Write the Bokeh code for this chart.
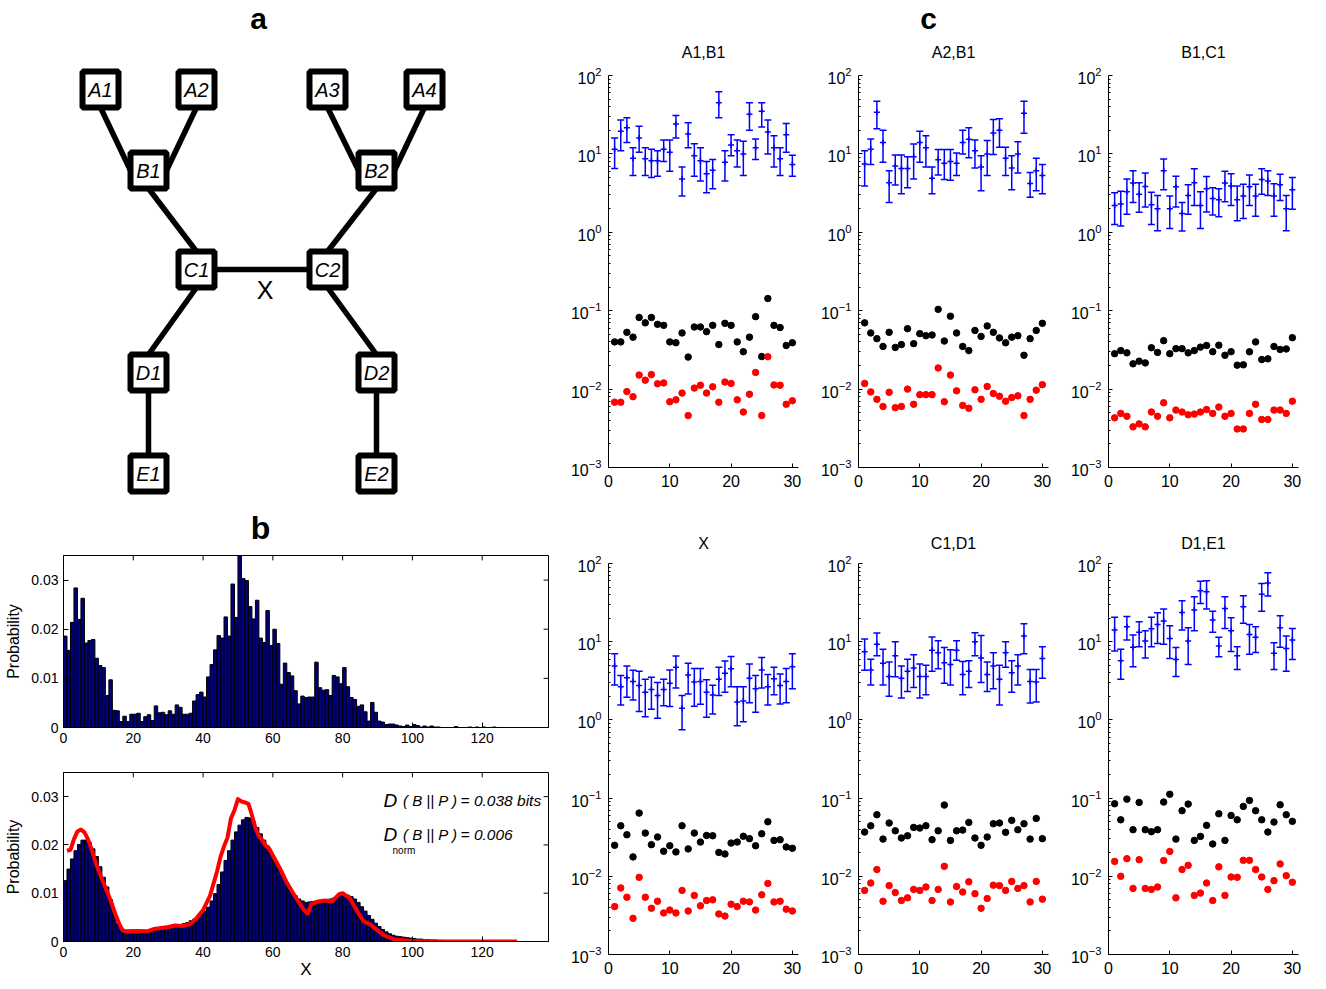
import numpy as np
from bokeh.plotting import figure
from bokeh.layouts import row, column
from bokeh.models import (Range1d, FixedTicker, CustomJSTickFormatter, Whisker, TeeHead,
                          ColumnDataSource)
from bokeh.embed import file_html
from bokeh.resources import INLINE
from bokeh.core.properties import value

FONT = "Liberation Sans"

# ---------------- panel a : network ----------------
node_names = ["A1", "A2", "A3", "A4", "B1", "B2", "C1", "C2", "D1", "D2", "E1", "E2"]
node_x = [100, 196, 327, 424, 148, 376, 196, 327, 148, 376, 148, 376]
node_y = [89, 89, 89, 89, 170, 170, 269, 269, 372, 372, 473, 473]
edges = [("A1", "b", "B1", "l"), ("A2", "b", "B1", "r"), ("B1", "b", "C1", "t"),
         ("A3", "b", "B2", "l"), ("A4", "b", "B2", "r"), ("B2", "b", "C2", "t"),
         ("C1", "r", "C2", "l"), ("C1", "b", "D1", "t"), ("C2", "b", "D2", "t"),
         ("D1", "b", "E1", "t"), ("D2", "b", "E2", "t")]
edge_label = "X"

# ---------------- panel b : histograms ----------------
hist_obs = [0.0186, 0.0157, 0.0214, 0.0284, 0.0220, 0.0263, 0.0172, 0.0177, 0.0179, 0.0141,
            0.0126, 0.0122, 0.0065, 0.0097, 0.0035, 0.0034, 0.0012, 0.0023, 0.0012, 0.0027,
            0.0027, 0.0029, 0.0012, 0.0022, 0.0026, 0.0014, 0.0044, 0.0030, 0.0031, 0.0026,
            0.0034, 0.0027, 0.0046, 0.0041, 0.0027, 0.0027, 0.0029, 0.0054, 0.0067, 0.0072,
            0.0062, 0.0103, 0.0128, 0.0158, 0.0187, 0.0182, 0.0225, 0.0186, 0.0292, 0.0224,
            0.0370, 0.0303, 0.0299, 0.0246, 0.0221, 0.0259, 0.0182, 0.0173, 0.0238, 0.0167,
            0.0200, 0.0171, 0.0088, 0.0131, 0.0112, 0.0105, 0.0075, 0.0048, 0.0064, 0.0061,
            0.0062, 0.0062, 0.0133, 0.0081, 0.0076, 0.0077, 0.0065, 0.0106, 0.0103, 0.0089,
            0.0122, 0.0083, 0.0061, 0.0057, 0.0043, 0.0046, 0.0032, 0.0013, 0.0051, 0.0031,
            0.0013, 0.0011, 0.0006, 0.0007, 0.0007, 0.0005, 0.0003, 0.0002, 0.0005, 0.0002,
            0.0006, 0.0004, 0.0001, 0.0003, 0.0001, 0.0003, 0.0001, 0.0001, 0.0, 0.0,
            0.0, 0.0, 0.0002, 0.0, 0.0, 0.0, 0.0001, 0.0, 0.0001, 0.0,
            0.0001, 0.0, 0.0, 0.0001, 0.0, 0.0, 0.0, 0.0, 0.0, 0.0,
            0.0, 0.0, 0.0, 0.0, 0.0, 0.0, 0.0, 0.0, 0.0]
hist_model = [0.0126, 0.0150, 0.0171, 0.0188, 0.0201, 0.0210, 0.0210, 0.0205, 0.0192, 0.0176,
              0.0155, 0.0133, 0.0113, 0.0087, 0.0058, 0.0037, 0.0024, 0.0018, 0.0016, 0.0016,
              0.0016, 0.0016, 0.0018, 0.0020, 0.0022, 0.0023, 0.0024, 0.0026, 0.0027, 0.0029,
              0.0031, 0.0032, 0.0033, 0.0035, 0.0037, 0.0039, 0.0043, 0.0046, 0.0050, 0.0056,
              0.0063, 0.0071, 0.0084, 0.0099, 0.0118, 0.0144, 0.0168, 0.0188, 0.0210, 0.0227,
              0.0241, 0.0252, 0.0257, 0.0256, 0.0248, 0.0236, 0.0223, 0.0210, 0.0198, 0.0184,
              0.0169, 0.0154, 0.0139, 0.0125, 0.0113, 0.0103, 0.0095, 0.0088, 0.0084, 0.0081,
              0.0082, 0.0083, 0.0084, 0.0085, 0.0086, 0.0087, 0.0088, 0.0090, 0.0093, 0.0096,
              0.0097, 0.0096, 0.0093, 0.0088, 0.0081, 0.0072, 0.0063, 0.0054, 0.0046, 0.0038,
              0.0031, 0.0025, 0.0020, 0.0016, 0.0013, 0.0011, 0.0010, 0.0009, 0.0008, 0.0007,
              0.0006, 0.0005, 0.0005, 0.0004, 0.0004, 0.0003, 0.0003, 0.0002, 0.0002, 0.0002,
              0.0001, 0.0001, 0.0001, 0.0001, 0.0001, 0.0001, 0.0001, 0.0001, 0.0001, 0.0001,
              0.00005, 0.00005, 0.00005, 0.0, 0.0, 0.0, 0.0, 0.0, 0.0, 0.0,
              0.0, 0.0, 0.0, 0.0, 0.0, 0.0, 0.0, 0.0, 0.0]
curve_x = [1, 2, 3, 4, 5, 6, 7, 8, 9, 10, 11, 12, 13, 14, 15, 16, 17, 18, 20, 22, 24, 26, 28, 30,
           32, 34, 36, 38, 40, 42, 44, 45, 46, 47, 48, 49, 50, 51, 52, 53, 54, 55, 56, 57, 58,
           59, 60, 62, 64, 66, 68, 69, 70, 71, 73, 75, 77, 79, 80, 82, 84, 86, 88, 90, 92, 95,
           100, 110, 130]
curve_y = [0.0188, 0.0190, 0.0212, 0.0228, 0.0232, 0.0226, 0.0212, 0.0192, 0.0168, 0.0148,
           0.0130, 0.0112, 0.0094, 0.0075, 0.0054, 0.0036, 0.0023, 0.0021, 0.0022, 0.0022,
           0.0021, 0.0026, 0.0028, 0.0030, 0.0033, 0.0032, 0.0035, 0.0047, 0.0065, 0.0095,
           0.0145, 0.0175, 0.0197, 0.0215, 0.0255, 0.0272, 0.0295, 0.0290, 0.0288, 0.0285,
           0.0262, 0.0235, 0.0218, 0.0210, 0.0198, 0.0192, 0.0178, 0.0152, 0.0122, 0.0098,
           0.0075, 0.0065, 0.0058, 0.0077, 0.0083, 0.0085, 0.0083, 0.0098, 0.0100, 0.0090,
           0.0065, 0.0042, 0.0035, 0.0023, 0.0012, 0.0004, 0.0001, 0.0, 0.0]
hist_xticks = [0, 20, 40, 60, 80, 100, 120]
hist_yticks = [0, 0.01, 0.02, 0.03]
div_text = "= 0.038 bits"
divnorm_text = "= 0.006"

# ---------------- panel c : 6 log plots ----------------
trial = list(range(1, 31))
c_xticks = [0, 10, 20, 30]
c_yticks = [1e-3, 1e-2, 1e-1, 1e0, 1e1, 1e2]

a1b1_mid = [11.5, 19.5, 21.5, 8.8, 16, 8.7, 8.2, 8.2, 11.5, 10.5, 24, 4.8, 18, 9.5, 8.2, 5.6, 6.2, 45, 7.8, 13, 11, 10, 32, 12, 35, 19, 12, 8.7, 17.5, 7.3]
a1b1_hi = [16, 27, 29, 12, 22.5, 12, 11.5, 11, 15, 15, 31, 6.8, 25, 13.5, 12, 8, 8.5, 62, 11, 17.5, 15, 14.5, 45, 15.5, 45, 27, 17, 12, 24.5, 9.6]
a1b1_lo = [6.5, 11, 14, 5.3, 10.5, 5.3, 5, 5.2, 8, 6, 16, 2.9, 12, 5.2, 4.5, 3.2, 3.6, 29, 4.5, 9.5, 6.8, 5.3, 20, 8.5, 22, 10, 6.8, 5.3, 10.5, 5.2]
a1b1_black = [0.040, 0.040, 0.053, 0.046, 0.082, 0.070, 0.082, 0.067, 0.065, 0.040, 0.039, 0.052, 0.0256, 0.062, 0.062, 0.054, 0.065, 0.037, 0.069, 0.065, 0.040, 0.030, 0.046, 0.084, 0.026, 0.143, 0.065, 0.061, 0.036, 0.039]
a1b1_red = [0.0068, 0.0068, 0.0093, 0.0080, 0.0151, 0.0130, 0.0153, 0.0117, 0.0120, 0.0069, 0.0073, 0.0089, 0.0046, 0.0103, 0.0112, 0.0089, 0.0107, 0.0068, 0.0123, 0.0118, 0.0073, 0.0051, 0.0086, 0.0163, 0.0046, 0.0259, 0.0113, 0.0112, 0.0064, 0.0071]

a2b1_mid = [7.45, 11.5, 34, 14, 4.3, 7.0, 6.5, 6.5, 9.2, 14, 12, 4.9, 8.4, 7.6, 8.0, 7.6, 14, 15.4, 11, 6.8, 10, 18.5, 20, 8.8, 6.6, 10, 33, 4.2, 6.1, 5.3]
a2b1_hi = [11, 15.5, 47, 20, 6.1, 9.7, 9.7, 9.2, 13.4, 19.5, 17, 6.8, 11.4, 11.4, 11.4, 10.3, 20, 21.5, 15, 9.5, 14.8, 27.5, 28, 12.2, 9.5, 14.3, 47, 5.8, 8.8, 7.3]
a2b1_lo = [3.9, 7.3, 21, 7.8, 2.4, 4.0, 3.1, 3.7, 4.8, 7.8, 6.8, 3.1, 5.4, 4.7, 4.6, 5.3, 10, 8.9, 6.6, 3.4, 5.3, 9.8, 12.2, 5.3, 3.5, 5.7, 18.4, 2.8, 3.4, 3.1]
a2b1_black = [0.070, 0.052, 0.044, 0.035, 0.053, 0.034, 0.037, 0.059, 0.038, 0.051, 0.048, 0.049, 0.104, 0.041, 0.085, 0.052, 0.035, 0.031, 0.056, 0.047, 0.064, 0.053, 0.045, 0.039, 0.046, 0.048, 0.027, 0.044, 0.056, 0.069]
a2b1_red = [0.0118, 0.0092, 0.0074, 0.0060, 0.0091, 0.0058, 0.0060, 0.0100, 0.0064, 0.0085, 0.0085, 0.0085, 0.0186, 0.0069, 0.0151, 0.0095, 0.0062, 0.0057, 0.0098, 0.0074, 0.0108, 0.0088, 0.0081, 0.0070, 0.0078, 0.0082, 0.0046, 0.0074, 0.0097, 0.0114]

b1c1_mid = [2.2, 2.3, 3.3, 4.25, 3.05, 3.85, 2.25, 2.0, 6.1, 2.0, 3.8, 1.74, 2.95, 4.3, 2.2, 3.6, 2.7, 2.6, 4.25, 3.9, 2.6, 2.9, 3.8, 2.9, 4.7, 4.5, 2.9, 4.05, 2.0, 3.5]
b1c1_hi = [3.2, 3.35, 4.8, 6.1, 4.3, 5.7, 3.25, 2.95, 8.6, 2.9, 5.2, 2.4, 4.05, 6.45, 3.3, 5.15, 3.7, 3.6, 6.0, 5.6, 3.9, 4.1, 5.4, 4.1, 6.45, 6.1, 4.15, 5.5, 2.95, 5.0]
b1c1_lo = [1.26, 1.2, 1.7, 2.4, 1.8, 2.1, 1.26, 1.05, 3.5, 1.12, 2.1, 1.04, 1.7, 2.2, 1.12, 1.82, 1.66, 1.58, 2.45, 2.2, 1.4, 1.5, 2.2, 1.6, 3.05, 2.95, 1.6, 2.55, 1.05, 1.97]
b1c1_black = [0.0283, 0.031, 0.029, 0.021, 0.0227, 0.0216, 0.0337, 0.0294, 0.0415, 0.0283, 0.0328, 0.0328, 0.029, 0.031, 0.0343, 0.036, 0.030, 0.0363, 0.027, 0.030, 0.0202, 0.0204, 0.0299, 0.040, 0.0238, 0.0243, 0.035, 0.032, 0.0325, 0.0453]
b1c1_red = [0.0043, 0.0049, 0.0045, 0.0033, 0.0036, 0.0033, 0.0051, 0.0045, 0.0067, 0.0043, 0.0054, 0.0051, 0.0047, 0.0048, 0.0051, 0.0055, 0.0049, 0.0059, 0.0045, 0.0049, 0.0031, 0.0031, 0.0049, 0.0064, 0.0041, 0.0041, 0.0054, 0.0054, 0.0049, 0.0070]

x_mid = [4.9, 2.66, 3.47, 3.1, 2.75, 2.25, 2.45, 2.05, 2.45, 2.95, 4.7, 1.41, 3.75, 3.05, 3.1, 2.25, 2.08, 3.3, 3.95, 4.5, 1.7, 1.75, 3.4, 2.5, 4.35, 2.66, 3.35, 2.75, 3.1, 4.8]
x_hi = [7.0, 3.7, 4.9, 4.3, 4.2, 3.3, 3.5, 3.0, 3.3, 4.35, 6.55, 2.05, 5.3, 4.55, 4.55, 3.25, 2.77, 4.7, 5.65, 6.45, 2.66, 2.66, 5.2, 3.7, 6.3, 3.8, 4.7, 3.85, 4.55, 7.0]
x_lo = [2.8, 1.55, 1.95, 1.8, 1.28, 1.1, 1.37, 1.05, 1.52, 1.48, 2.56, 0.75, 2.15, 1.5, 1.58, 1.08, 1.19, 2.05, 2.25, 2.66, 0.84, 0.95, 1.66, 1.25, 2.56, 1.55, 2.1, 1.6, 1.66, 2.5]
x_black = [0.0249, 0.0443, 0.034, 0.0177, 0.0643, 0.0357, 0.0254, 0.0318, 0.0209, 0.0246, 0.0205, 0.0443, 0.0224, 0.0357, 0.0274, 0.0333, 0.033, 0.0202, 0.0193, 0.0266, 0.0274, 0.0325, 0.0303, 0.0246, 0.035, 0.0498, 0.0288, 0.0294, 0.0237, 0.0228]
x_red = [0.0041, 0.0071, 0.0054, 0.0029, 0.0097, 0.0054, 0.0039, 0.0048, 0.0034, 0.0037, 0.0034, 0.0066, 0.0036, 0.0057, 0.0042, 0.0049, 0.0050, 0.0033, 0.0031, 0.0044, 0.0041, 0.0048, 0.0047, 0.0037, 0.0058, 0.0081, 0.0047, 0.0048, 0.0038, 0.0036]

c1d1_mid = [7.45, 4.35, 9.3, 5.3, 3.6, 6.6, 3.4, 4.2, 4.6, 3.6, 3.6, 7.8, 7.2, 5.4, 5.1, 7.8, 3.8, 4.2, 10, 6.2, 3.8, 4.9, 3.3, 7.2, 4.0, 4.9, 11.8, 3.1, 3.05, 6.1]
c1d1_hi = [10.8, 5.95, 12.9, 8.0, 5.5, 10, 4.9, 5.95, 6.8, 5.2, 5.0, 11.5, 10.3, 8.4, 7.9, 10.3, 5.6, 5.7, 13, 12, 5.5, 7.2, 5.0, 10, 5.7, 6.8, 17, 4.4, 4.4, 8.6]
c1d1_lo = [4.3, 2.8, 6.6, 2.8, 2.0, 3.55, 1.9, 2.3, 2.6, 1.9, 2.1, 4.2, 4.5, 2.95, 2.8, 5.8, 2.1, 2.6, 6.6, 3.0, 2.3, 2.5, 1.55, 4.7, 2.25, 2.8, 7.0, 1.65, 1.7, 3.4]
c1d1_black = [0.0368, 0.0443, 0.0613, 0.0299, 0.048, 0.0382, 0.0309, 0.033, 0.0422, 0.0414, 0.0443, 0.0294, 0.0382, 0.0814, 0.0288, 0.0382, 0.039, 0.0489, 0.0309, 0.0249, 0.0318, 0.047, 0.048, 0.0365, 0.0519, 0.0394, 0.047, 0.0299, 0.055, 0.0303]
c1d1_red = [0.0066, 0.0082, 0.0122, 0.0048, 0.0076, 0.0062, 0.0049, 0.0053, 0.0068, 0.0066, 0.0073, 0.0049, 0.0068, 0.0134, 0.0047, 0.0074, 0.0063, 0.0085, 0.0060, 0.0039, 0.0052, 0.0077, 0.0076, 0.0066, 0.0086, 0.0070, 0.0076, 0.0047, 0.0086, 0.0051]

d1e1_mid = [14.1, 5.7, 15.5, 8.5, 13.2, 10.2, 14.6, 16.6, 18.4, 11, 5.9, 23.7, 10.2, 25.4, 44.8, 43.5, 18.9, 8.8, 26.6, 13.8, 6.6, 27.9, 12.4, 11.4, 40.3, 56.5, 7.1, 15.1, 8.2, 10.5]
d1e1_hi = [20.5, 8.0, 21, 12.2, 18, 13.8, 20.5, 23.4, 26.2, 16, 8.4, 33.4, 15.1, 37.5, 59.5, 60, 24.6, 11.4, 37.5, 20.2, 8.6, 38.6, 16.6, 15.5, 55.4, 76, 9.7, 21.4, 11.8, 14.8]
d1e1_lo = [7.6, 3.3, 10.5, 4.8, 8.6, 6.2, 8.6, 9.5, 9.3, 6.1, 3.6, 14.1, 5.1, 13.8, 30.9, 26.2, 13.2, 6.4, 14.8, 7.5, 4.4, 17.2, 6.9, 7.3, 24.6, 38.4, 4.4, 8.5, 4.2, 5.9]
d1e1_black = [0.0847, 0.0528, 0.097, 0.0394, 0.088, 0.0394, 0.0372, 0.0394, 0.089, 0.112, 0.0299, 0.069, 0.0838, 0.0288, 0.0324, 0.0448, 0.0259, 0.063, 0.0288, 0.06, 0.0528, 0.0783, 0.0934, 0.069, 0.0528, 0.0368, 0.0494, 0.0822, 0.0613, 0.0504]
d1e1_red = [0.0155, 0.0100, 0.0168, 0.0070, 0.0163, 0.0070, 0.0068, 0.0073, 0.0159, 0.0208, 0.0053, 0.0122, 0.0138, 0.0057, 0.0061, 0.0082, 0.0049, 0.0132, 0.0057, 0.0098, 0.0097, 0.0160, 0.0160, 0.0122, 0.0098, 0.0068, 0.0088, 0.0144, 0.0102, 0.0084]

top_titles = ["A1,B1", "A2,B1", "B1,C1"]
panels_top = [(a1b1_mid, a1b1_hi, a1b1_lo, a1b1_black, a1b1_red),
              (a2b1_mid, a2b1_hi, a2b1_lo, a2b1_black, a2b1_red),
              (b1c1_mid, b1c1_hi, b1c1_lo, b1c1_black, b1c1_red)]
bot_titles = ["X", "C1,D1", "D1,E1"]
panels_bot = [(x_mid, x_hi, x_lo, x_black, x_red),
              (c1d1_mid, c1d1_hi, c1d1_lo, c1d1_black, c1d1_red),
              (d1e1_mid, d1e1_hi, d1e1_lo, d1e1_black, d1e1_red)]

# left column frames share these borders (column aligns frames)
LB, RB = 63, 10
LW = 558

# ===================== build panel a =====================
pa = figure(width=LW, height=548, x_range=Range1d(LB, LW - RB), y_range=Range1d(548, 0),
            x_axis_location=None, y_axis_location=None, min_border=0,
            min_border_left=LB, min_border_right=RB,
            output_backend="svg", toolbar_location=None)
pa.grid.visible = False
pa.outline_line_color = None
half = 18
off = {"b": (0, half), "t": (0, -half), "l": (-half, 0), "r": (half, 0)}
pos = {n: (x, y) for n, x, y in zip(node_names, node_x, node_y)}
ex0, ey0, ex1, ey1 = [], [], [], []
for n0, a0, n1, a1 in edges:
    ex0.append(pos[n0][0] + off[a0][0]); ey0.append(pos[n0][1] + off[a0][1])
    ex1.append(pos[n1][0] + off[a1][0]); ey1.append(pos[n1][1] + off[a1][1])
pa.segment(ex0, ey0, ex1, ey1, line_color="black", line_width=5.5)
pa.rect(node_x, node_y, width=36, height=36, fill_color="white", line_color="black", line_width=6)
pa.text(node_x, node_y, text=node_names, text_align="center", text_baseline="middle",
        text_font=value(FONT), text_font_style="italic", text_font_size="20px", text_color="black")
cx = (pos["C1"][0] + pos["C2"][0]) / 2
pa.text([cx + 3], [pos["C1"][1] + 20], text=[edge_label], text_align="center", text_baseline="middle",
        text_font=value(FONT), text_font_size="25px", text_color="black")
pa.text([258], [18], text=["a"], text_align="center", text_baseline="middle",
        text_font=value(FONT), text_font_style="bold", text_font_size="30px")
pa.text([260], [527], text=["b"], text_align="center", text_baseline="middle",
        text_font=value(FONT), text_font_style="bold", text_font_size="32px")


# ===================== histograms =====================
def hist_fig(vals, height, top, bottom, xlabel=None):
    p = figure(width=LW, height=height, x_range=Range1d(0, 139), y_range=Range1d(0, 0.035),
               min_border_left=LB, min_border_right=RB, min_border_top=top, min_border_bottom=bottom,
               output_backend="svg", toolbar_location=None)
    p.grid.visible = False
    p.outline_line_color = "black"
    p.outline_line_width = 1
    edges_l = np.arange(len(vals))
    p.quad(left=edges_l, right=edges_l + 1, bottom=0, top=vals,
           fill_color="#00007a", line_color="black", line_width=1)
    for ax in (p.xaxis[0], p.yaxis[0]):
        ax.major_tick_in = 5
        ax.major_tick_out = 0
        ax.minor_tick_in = 0
        ax.minor_tick_out = 0
        ax.axis_line_color = "black"
        ax.major_label_text_font = FONT
        ax.major_label_text_font_size = "14px"
        ax.major_label_text_color = "black"
        ax.major_label_standoff = 5
    p.xaxis.ticker = FixedTicker(ticks=hist_xticks)
    p.yaxis.ticker = FixedTicker(ticks=hist_yticks)
    p.yaxis.formatter = CustomJSTickFormatter(code="return tick === 0 ? '0' : tick.toFixed(2);")
    p.yaxis.axis_label = "Probability"
    p.yaxis.axis_label_text_font = FONT
    p.yaxis.axis_label_text_font_style = "normal"
    p.yaxis.axis_label_text_font_size = "16px"
    p.yaxis.axis_label_text_color = "black"
    p.yaxis.axis_label_standoff = 6
    if xlabel:
        p.xaxis.axis_label = xlabel
        p.xaxis.axis_label_text_font = FONT
        p.xaxis.axis_label_text_font_style = "normal"
        p.xaxis.axis_label_text_font_size = "17px"
        p.xaxis.axis_label_text_color = "black"
        p.xaxis.axis_label_standoff = 0
    # ticks on top and right border (MATLAB box)
    p.segment(hist_xticks, [0.035] * len(hist_xticks), hist_xticks, [0.034] * len(hist_xticks),
              line_color="black", line_width=1)
    p.segment([139] * len(hist_yticks), hist_yticks, [137.6] * len(hist_yticks), hist_yticks,
              line_color="black", line_width=1)
    return p


h1 = hist_fig(hist_obs, 214, 7, 35)
h2 = hist_fig(hist_model, 219, 10, 37, xlabel="X")
h2.line(curve_x, curve_y, line_color="red", line_width=4, line_join="round")
tkw = dict(text_font=value(FONT), text_baseline="middle", text_color="black")
h2.text([91.7], [0.0291], text=["D"], text_font_style="italic", text_font_size="19px", **tkw)
h2.text([97.3], [0.0291], text=["( B || P )"], text_font_style="italic", text_font_size="15px", **tkw)
h2.text([113.8], [0.0291], text=[div_text], text_font_style="italic", text_font_size="15.5px", **tkw)
h2.text([91.7], [0.0222], text=["D"], text_font_style="italic", text_font_size="19px", **tkw)
h2.text([97.3], [0.0222], text=["( B || P )"], text_font_style="italic", text_font_size="15px", **tkw)
h2.text([113.8], [0.0222], text=[divnorm_text], text_font_style="italic", text_font_size="15.5px", **tkw)
h2.text([94.3], [0.0189], text=["norm"], text_font_size="10px", **tkw)


# ===================== log subplots =====================
minor = [k * 10.0 ** d for d in range(-3, 2) for k in range(2, 10)]


def log_fig(mid, hi, lo, black, red, height, top, bottom, title=None, standoff=10):
    p = figure(width=250, height=height, x_range=Range1d(0, 31), y_range=Range1d(1e-3, 1e2),
               y_axis_type="log", min_border_left=50, min_border_right=10,
               min_border_top=top, min_border_bottom=bottom,
               output_backend="svg", toolbar_location=None)
    if title is not None:
        p.title.text = title
        p.title.align = "center"
        p.title.text_font = FONT
        p.title.text_font_style = "normal"
        p.title.text_font_size = "16px"
        p.title.text_color = "black"
        p.title.standoff = standoff
    p.grid.visible = False
    p.outline_line_color = None
    p.xaxis.ticker = FixedTicker(ticks=c_xticks)
    p.yaxis.ticker = FixedTicker(ticks=c_yticks, minor_ticks=minor)
    for ax in (p.xaxis[0], p.yaxis[0]):
        ax.major_tick_in = 4
        ax.major_tick_out = 0
        ax.minor_tick_in = 2
        ax.minor_tick_out = 0
        ax.axis_line_color = "black"
        ax.major_label_text_font = FONT
        ax.major_label_text_font_size = "16px"
        ax.major_label_text_color = "black"
        ax.major_label_standoff = 7
    p.xaxis.minor_tick_in = 0
    src = ColumnDataSource(dict(x=trial, mid=mid, hi=hi, lo=lo))
    p.add_layout(Whisker(source=src, base="x", upper="hi", lower="lo", dimension="height",
                         line_color="blue", line_width=1.5,
                         upper_head=TeeHead(size=7, line_color="blue", line_width=1.5),
                         lower_head=TeeHead(size=7, line_color="blue", line_width=1.5)))
    p.scatter("x", "mid", source=src, marker="cross", size=6, line_color="blue", line_width=1.5)
    p.scatter(trial, black, size=6.5, fill_color="black", line_color="black")
    p.scatter(trial, red, size=6.5, fill_color="red", line_color="red")
    return p


# strip above the top row: panel label "c" and the three top-row titles
STRIP_H = 61
top_figs = [log_fig(*pp, height=510 - STRIP_H, top=75 - STRIP_H, bottom=43) for pp in panels_top]
bot_figs = [log_fig(*pp, height=471, top=53, bottom=27, title=t, standoff=24)
            for pp, t in zip(panels_bot, bot_titles)]

strip = figure(width=750, height=STRIP_H, x_range=Range1d(558, 1308), y_range=Range1d(STRIP_H, 0),
               x_axis_location=None, y_axis_location=None, min_border=0,
               output_backend="svg", toolbar_location=None)
strip.grid.visible = False
strip.outline_line_color = None
strip.text([928], [18], text=["c"], text_align="center", text_baseline="middle",
           text_font=value(FONT), text_font_style="bold", text_font_size="30px")
strip.text([703, 953, 1203], [52, 52, 52], text=top_titles, text_align="center",
           text_baseline="middle", text_font=value(FONT), text_font_size="16px", text_color="black")

left = column(pa, h1, h2)
right = column(strip, row(*top_figs), row(*bot_figs))
root = row(left, right)

open("out.html", "w").write(file_html(root, INLINE))
